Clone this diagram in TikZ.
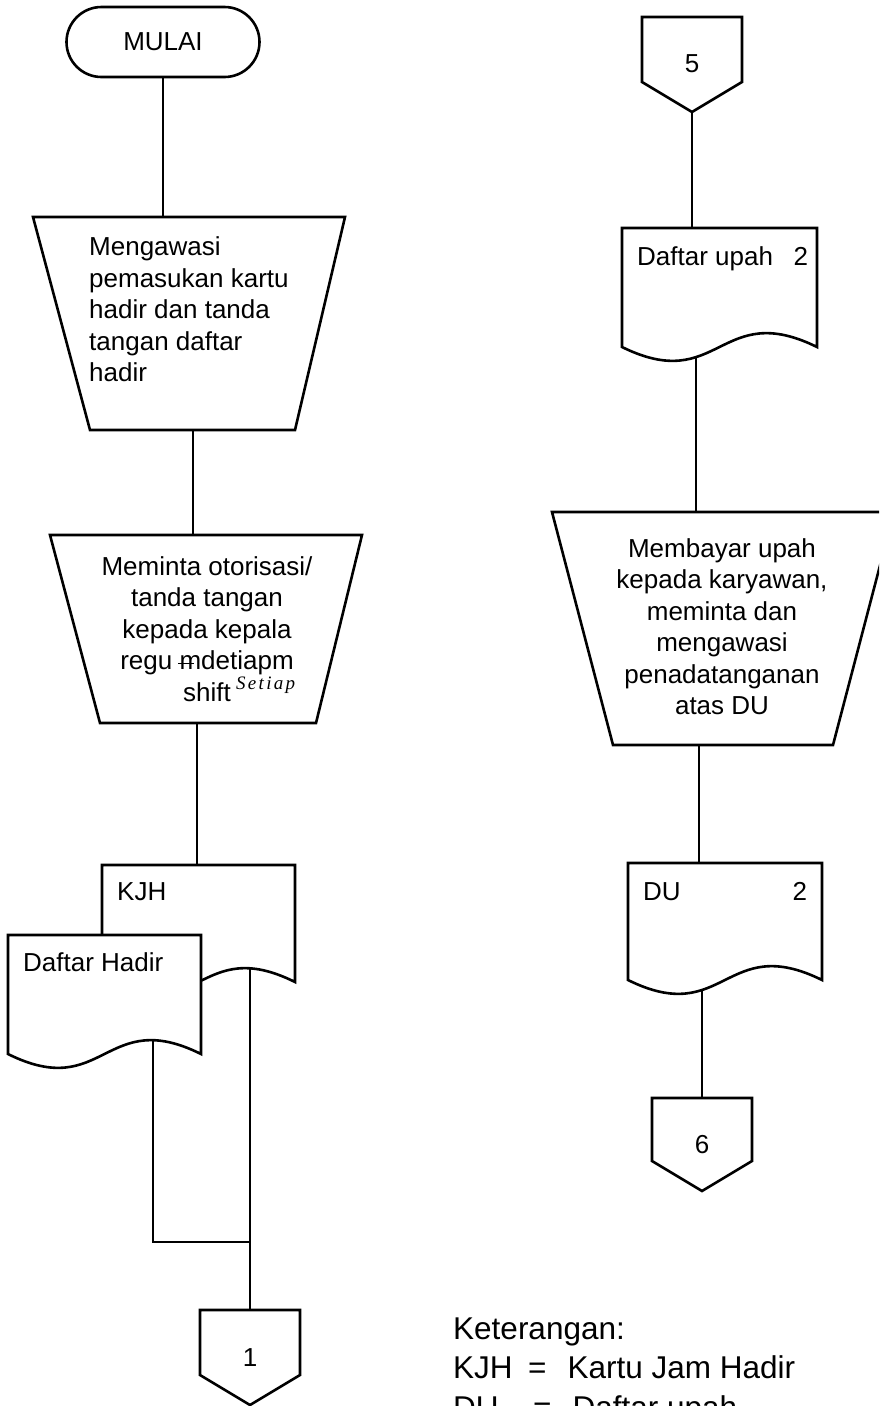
\documentclass[tikz,border=0pt]{standalone}
\usepackage{fontspec}
\setmainfont{Liberation Sans}
\newfontfamily\handfont{Liberation Serif}[LetterSpace=12]
\usetikzlibrary{shapes.misc}

\tikzset{
  symline/.style={draw, line width=2.6pt, fill=white, line join=miter},
  conn/.style={draw, line width=1.1pt},
  lbl/.style={inner sep=0pt, font=\fontsize{26}{31.5}\selectfont},
  legend/.style={inner sep=0pt, font=\fontsize{31.5}{39}\selectfont},
}

% document symbol: x, y (top left), width, side height
\newcommand{\docsym}[4]{%
  \path[symline] (#1,#2) -- ({#1+#3},#2) -- ({#1+#3},{#2+#4})
    .. controls ({#1+0.5*#3},{#2+#4-48}) and ({#1+0.5*#3},{#2+#4+48}) .. (#1,{#2+#4}) -- cycle;}
% off-page connector: x, y (top left), width, body height
\newcommand{\offpage}[4]{%
  \path[symline] (#1,#2) -- ({#1+#3},#2) -- ({#1+#3},{#2+#4})
    -- ({#1+0.5*#3},{#2+#4+30}) -- (#1,{#2+#4}) -- cycle;}
% struck-out letter m
\newcommand{\strkm}{\makebox[0pt][l]{\kern-0.05em\raisebox{0.2em}{\rule{0.62em}{1.3pt}}}m}

\begin{document}
\begin{tikzpicture}[x=1pt,y=-1pt]
\useasboundingbox (0,0) rectangle (879,1406);
\clip (0,0) rectangle (879,1406);

% ---------- left column ----------
\node[symline, rounded rectangle, minimum width=193pt, minimum height=70pt,
      inner sep=0pt, font=\fontsize{26}{31.5}\selectfont] (mulai) at (163,42) {MULAI};

\coordinate (t1top) at (163,217);
\coordinate (t1bot) at (193,430);
\coordinate (t2top) at (193,535);
\coordinate (t2bot) at (197,723);
\coordinate (kjhtop) at (197,865);
\coordinate (kjhbot) at (250,950);
\coordinate (dhbot) at (153,1020);
\coordinate (dhcorner) at (153,1242);
\coordinate (join) at (250,1242);
\coordinate (c1top) at (250,1310);

\draw[conn] (mulai.south) -- (t1top);
\draw[conn] (t1bot) -- (t2top);
\draw[conn] (t2bot) -- (kjhtop);
\draw[conn] (kjhbot) -- (join) -- (c1top);
\draw[conn] (dhbot) -- (dhcorner) -- (join);

% process 1
\path[symline] (33,217) -- (345,217) -- (295,430) -- (90,430) -- cycle;
\node[lbl, anchor=north west, align=left] (t1txt) at (89,236.5)
  {Mengawasi\\pemasukan kartu\\hadir dan tanda\\tangan daftar\\hadir};

% process 2
\path[symline] (50,535) -- (362,535) -- (316,723) -- (100,723) -- cycle;
\node[lbl, anchor=north, align=center] (t2txt) at (207,556)
  {Meminta otorisasi/\\tanda tangan\\kepada kepala\\regu \strkm detiapm\\shift};
\node[anchor=base west, inner sep=0pt, font=\handfont\itshape\fontsize{19}{19}\selectfont] (note) at (236,689) {Setiap};

% documents KJH and Daftar Hadir
\docsym{102}{865}{193}{117}
\node[lbl, anchor=base west] (kjhtxt) at (117,900) {KJH};
\docsym{8}{935}{193}{119}
\node[lbl, anchor=base west] (dhtxt) at (23,971) {Daftar Hadir};

% connector 1
\offpage{200}{1310}{100}{65}
\node[lbl] (c1txt) at (250,1358) {1};

% ---------- right column ----------
\coordinate (c5tip) at (692,112);
\coordinate (dutop) at (692,228);
\coordinate (dubot) at (696,340);
\coordinate (t3top) at (696,512);
\coordinate (t3bot) at (699,745);
\coordinate (du2top) at (699,863);
\coordinate (du2bot) at (702,975);
\coordinate (c6top) at (702,1098);

\draw[conn] (c5tip) -- (dutop);
\draw[conn] (dubot) -- (t3top);
\draw[conn] (t3bot) -- (du2top);
\draw[conn] (du2bot) -- (c6top);

% connector 5
\offpage{642}{17}{100}{65}
\node[lbl] (c5txt) at (692,64) {5};

% document Daftar upah
\docsym{622}{228}{195}{119}
\node[lbl, anchor=base west] (dutxt) at (637,265) {\makebox[171pt][l]{Daftar upah\hfill2}};

% process 3
\path[symline] (552,512) -- (894,512) -- (833,745) -- (613,745) -- cycle;
\node[lbl, anchor=north, align=center] (t3txt) at (722,538)
  {Membayar upah\\kepada karyawan,\\meminta dan\\mengawasi\\penadatanganan\\atas DU};

% document DU
\docsym{628}{863}{194}{117}
\node[lbl, anchor=base west] (du2txt) at (643,900) {\makebox[164pt][l]{DU\hfill2}};

% connector 6
\offpage{652}{1098}{100}{63}
\node[lbl] (c6txt) at (702,1145) {6};

% ---------- legend ----------
\node[legend, anchor=base west] (ket) at (453,1339) {Keterangan:};
\node[legend, anchor=base west] (lkjh) at (453,1378) {\makebox[75pt][l]{KJH}=\hspace{21pt}Kartu Jam Hadir};
\node[legend, anchor=base west] (ldu) at (453,1418) {\makebox[80pt][l]{DU}=\hspace{21pt}Daftar upah};
\end{tikzpicture}
\end{document}
